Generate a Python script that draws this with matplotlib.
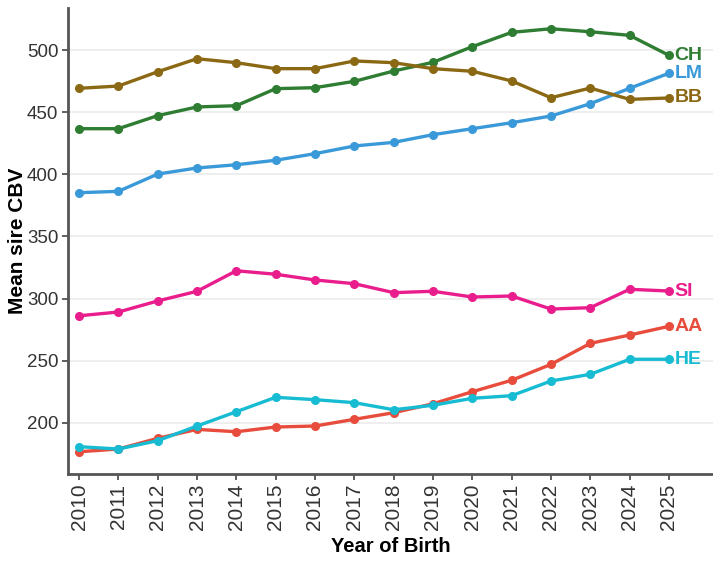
import matplotlib
matplotlib.use("Agg")
import matplotlib.pyplot as plt

years = list(range(2010, 2026))
breeds = ["CH", "LM", "BB", "SI", "AA", "HE"]
colors = {"CH": "#2E7D32", "LM": "#3A9AD9", "BB": "#8B6914",
          "SI": "#E91E8C", "AA": "#E74C3C", "HE": "#17BCD2"}

ch = [436.7, 436.7, 447.2, 454.2, 455.2, 468.9, 469.7, 474.8, 483.1, 490.1, 502.7, 514.2, 517.1, 514.7, 511.8, 495.7]
lm = [385.2, 386.3, 400.2, 405.1, 407.7, 411.3, 416.6, 422.8, 425.7, 431.9, 436.7, 441.5, 446.9, 456.8, 469.2, 481.3]
bb = [469.2, 471.0, 482.5, 493.0, 489.8, 485.0, 485.0, 491.2, 489.8, 485.0, 482.9, 475.1, 461.6, 469.4, 460.3, 461.4]
si = [286.2, 289.2, 298.1, 305.9, 322.4, 319.6, 315.0, 312.0, 304.8, 305.9, 301.3, 302.1, 291.6, 292.7, 307.5, 306.1]
aa = [176.8, 179.0, 187.6, 194.8, 192.9, 196.7, 197.5, 202.9, 208.2, 215.4, 225.1, 234.3, 247.1, 264.0, 270.7, 277.7]
he = [180.9, 179.0, 185.7, 197.5, 209.0, 220.6, 218.7, 216.3, 210.6, 214.2, 219.8, 221.9, 233.7, 239.1, 251.2, 251.2]
series = {"CH": ch, "LM": lm, "BB": bb, "SI": si, "AA": aa, "HE": he}

y_ticks = [200, 250, 300, 350, 400, 450, 500]

font = "Liberation Sans"

fig = plt.figure(figsize=(7.13, 5.76), dpi=100)
ax_w = 1 - 68/713
ax = fig.add_axes([68/713, 1 - 474/576, ax_w, (474 - 8)/576])

for b in breeds:
    ax.plot(years, series[b], color=colors[b], lw=2.4, marker="o", ms=5.5,
            solid_capstyle="round", zorder=3)
    ax.annotate(b, xy=(years[-1], series[b][-1]), xytext=(4, 0),
                textcoords="offset points", va="center", ha="left",
                color=colors[b], fontsize=14, fontweight="bold",
                family=font, annotation_clip=False)

ax.set_xlim(2009.72, 2026.12)
ax.set_ylim(158.9, 533.8)
ax.set_yticks(y_ticks)
ax.set_xticks(years)
ax.set_yticklabels([str(v) for v in y_ticks], family=font, fontsize=13.5, color="#333333")
ax.set_xticklabels([str(y) for y in years], rotation=90, family=font,
                   fontsize=15, color="#333333")
ax.tick_params(axis="both", length=4, width=1.2, color="#444444", pad=3)
ax.grid(axis="y", color="#EBEBEB", lw=1.2)
ax.set_axisbelow(True)
for s in ["top", "right"]:
    ax.spines[s].set_visible(False)
for s in ["left", "bottom"]:
    ax.spines[s].set_color("#555555")
    ax.spines[s].set_linewidth(2)

ax.set_xlabel("Year of Birth", family=font, fontweight="bold", fontsize=14.5, labelpad=5)
ax.set_ylabel("Mean sire CBV", family=font, fontweight="bold", fontsize=15)
ax.yaxis.set_label_coords((27 - 68) / (ax_w * 713), 0.5)

fig.savefig("out.png", dpi=100)
